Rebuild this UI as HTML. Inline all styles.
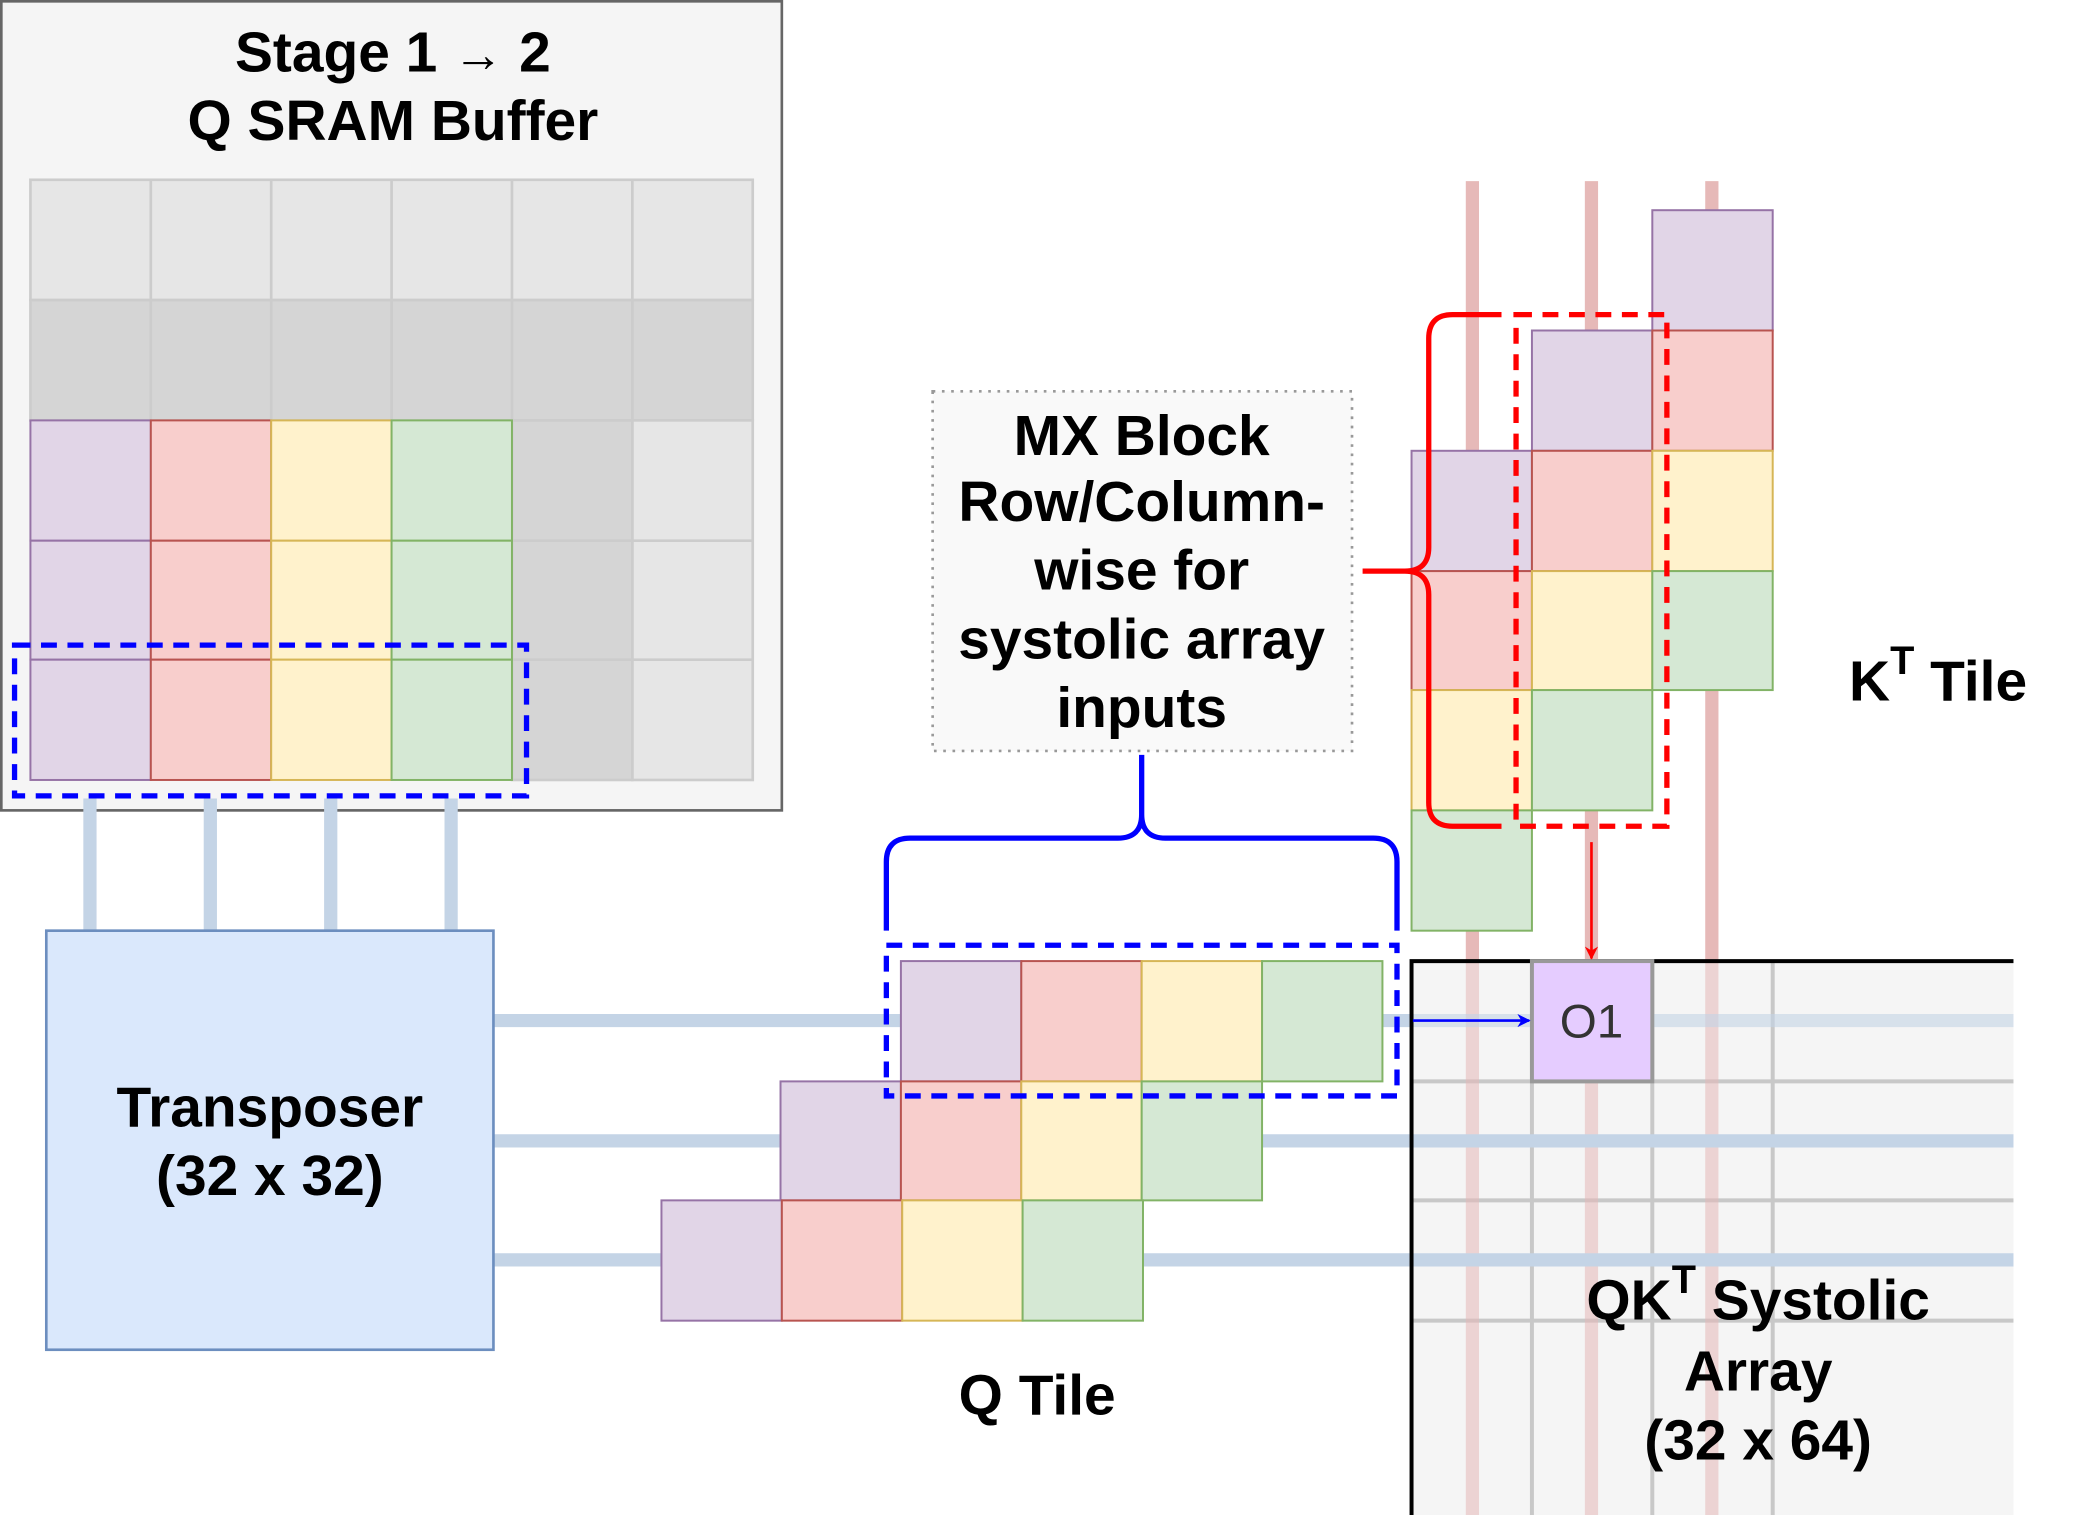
<!DOCTYPE html>
<html><head><meta charset="utf-8"><style>html,body{margin:0;padding:0;background:#fff}svg{display:block}text{font-family:"Liberation Sans",sans-serif;font-weight:bold;fill:#000;text-anchor:middle}</style></head><body>
<svg width="2073" height="1515" viewBox="0 0 1567 1146" preserveAspectRatio="none" xmlns="http://www.w3.org/2000/svg">
<defs>
<marker id="ab" markerWidth="10" markerHeight="10" refX="9" refY="5" orient="auto" markerUnits="userSpaceOnUse"><path d="M0,0 L10,5 L0,10 L3,5 z" fill="#00f"/></marker>
<marker id="ar" markerWidth="10" markerHeight="10" refX="9" refY="5" orient="auto" markerUnits="userSpaceOnUse"><path d="M0,0 L10,5 L0,10 L3,5 z" fill="#f00"/></marker>
</defs>
<rect x="1" y="1" width="590" height="612" fill="#f5f5f5" stroke="#666" stroke-width="2"/>
<text x="297" y="54" font-size="43">Stage 1 <tspan font-size="38">→</tspan> 2</text>
<text x="297" y="106" font-size="43">Q SRAM Buffer</text>
<g stroke="#ccc" stroke-width="2">
<rect x="23" y="136" width="546" height="91" fill="#e6e6e6"/>
<rect x="23" y="227" width="546" height="91" fill="#d5d5d5"/>
<rect x="387" y="318" width="91" height="272" fill="#d5d5d5"/>
<rect x="478" y="318" width="91" height="272" fill="#e6e6e6"/>
<path d="M114,136V318M205,136V318M296,136V318M387,136V318M478,136V590M387,409H569M387,499H569" fill="none"/>
</g>
<g stroke-width="1.5">
<g fill="#e1d5e7" stroke="#9673a6"><rect x="23" y="318" width="91" height="91"/><rect x="23" y="409" width="91" height="90"/><rect x="23" y="499" width="91" height="91"/></g>
<g fill="#f8cecc" stroke="#b85450"><rect x="114" y="318" width="91" height="91"/><rect x="114" y="409" width="91" height="90"/><rect x="114" y="499" width="91" height="91"/></g>
<g fill="#fff2cc" stroke="#d6b656"><rect x="205" y="318" width="91" height="91"/><rect x="205" y="409" width="91" height="90"/><rect x="205" y="499" width="91" height="91"/></g>
<g fill="#d5e8d4" stroke="#82b366"><rect x="296" y="318" width="91" height="91"/><rect x="296" y="409" width="91" height="90"/><rect x="296" y="499" width="91" height="91"/></g>
</g>
<rect x="11" y="488" width="387" height="114" fill="none" stroke="#00f" stroke-width="4" stroke-dasharray="12,8"/>
<g stroke="#c4d4e6" stroke-width="10"><path d="M68,604V704M159,604V704M250,604V704M341,604V704"/></g>
<rect x="1067" y="727" width="455" height="419" fill="#f5f5f5"/>
<g stroke="#c8c8c8" stroke-width="3"><path d="M1158,727V1146M1249,727V1146M1340,727V1146M1067,818H1522M1067,908H1522M1067,999H1522"/></g>
<g stroke="#e6b9b8" stroke-width="10"><path d="M1113,137V727M1203,137V727M1294,137V727"/></g>
<g stroke="#e6b9b8" stroke-width="10" opacity="0.55"><path d="M1113,727V1146M1203,727V1146M1294,727V1146"/></g>
<g stroke="#c4d4e6" stroke-width="10"><path d="M373,772H681M1045,772H1067M373,863H590M954,863H1522M373,953H500M864,953H1522"/></g>
<g stroke="#c4d4e6" stroke-width="10" opacity="0.6"><path d="M1067,772H1522"/></g>
<path d="M1067,1146V727H1522" fill="none" stroke="#000" stroke-width="3"/>
<rect x="1158" y="727" width="91" height="91" fill="#e5ccff" stroke="#999" stroke-width="3"/>
<text x="1203" y="785" font-size="36" style="font-weight:normal;fill:#333">O1</text>
<text x="1329" y="998" font-size="43">QK<tspan dy="-20" font-size="30">T</tspan><tspan dy="20"> Systolic</tspan></text>
<text x="1329" y="1052" font-size="43">Array</text>
<text x="1329" y="1104" font-size="43">(32 x 64)</text>
<rect x="35" y="704" width="338" height="317" fill="#dae8fc" stroke="#6c8ebf" stroke-width="2"/>
<text x="204" y="852" font-size="43">Transposer</text>
<text x="204" y="904" font-size="43">(32 x 32)</text>
<g stroke-width="1.5">
<rect x="681" y="727" width="91" height="91" fill="#e1d5e7" stroke="#9673a6"/><rect x="772" y="727" width="91" height="91" fill="#f8cecc" stroke="#b85450"/><rect x="863" y="727" width="91" height="91" fill="#fff2cc" stroke="#d6b656"/><rect x="954" y="727" width="91" height="91" fill="#d5e8d4" stroke="#82b366"/>
<rect x="590" y="818" width="91" height="90" fill="#e1d5e7" stroke="#9673a6"/><rect x="681" y="818" width="91" height="90" fill="#f8cecc" stroke="#b85450"/><rect x="772" y="818" width="91" height="90" fill="#fff2cc" stroke="#d6b656"/><rect x="863" y="818" width="91" height="90" fill="#d5e8d4" stroke="#82b366"/>
<rect x="500" y="908" width="91" height="91" fill="#e1d5e7" stroke="#9673a6"/><rect x="591" y="908" width="91" height="91" fill="#f8cecc" stroke="#b85450"/><rect x="682" y="908" width="91" height="91" fill="#fff2cc" stroke="#d6b656"/><rect x="773" y="908" width="91" height="91" fill="#d5e8d4" stroke="#82b366"/>
</g>
<rect x="670" y="715" width="386" height="114" fill="none" stroke="#00f" stroke-width="4" stroke-dasharray="12,8"/>
<text x="784" y="1070" font-size="43">Q Tile</text>
<g stroke-width="1.5">
<rect x="1067" y="341" width="91" height="91" fill="#e1d5e7" stroke="#9673a6"/><rect x="1067" y="432" width="91" height="90" fill="#f8cecc" stroke="#b85450"/><rect x="1067" y="522" width="91" height="91" fill="#fff2cc" stroke="#d6b656"/><rect x="1067" y="613" width="91" height="91" fill="#d5e8d4" stroke="#82b366"/>
<rect x="1158" y="250" width="91" height="91" fill="#e1d5e7" stroke="#9673a6"/><rect x="1158" y="341" width="91" height="91" fill="#f8cecc" stroke="#b85450"/><rect x="1158" y="432" width="91" height="90" fill="#fff2cc" stroke="#d6b656"/><rect x="1158" y="522" width="91" height="91" fill="#d5e8d4" stroke="#82b366"/>
<rect x="1249" y="159" width="91" height="91" fill="#e1d5e7" stroke="#9673a6"/><rect x="1249" y="250" width="91" height="91" fill="#f8cecc" stroke="#b85450"/><rect x="1249" y="341" width="91" height="91" fill="#fff2cc" stroke="#d6b656"/><rect x="1249" y="432" width="91" height="90" fill="#d5e8d4" stroke="#82b366"/>
</g>
<rect x="1146" y="238" width="114" height="387" fill="none" stroke="#f00" stroke-width="4" stroke-dasharray="12,8"/>
<text x="1465" y="530" font-size="43">K<tspan dy="-20" font-size="30">T</tspan><tspan dy="20"> Tile</tspan></text>
<path d="M1135,238 H1098 Q1080,238 1080,256 V414 Q1080,432 1062,432 H1030 M1062,432 Q1080,432 1080,450 V607 Q1080,625 1098,625 H1135" fill="none" stroke="#f00" stroke-width="4"/>
<path d="M670,704 V652 Q670,634 688,634 H845 Q863,634 863,616 V571 M863,616 Q863,634 881,634 H1038 Q1056,634 1056,652 V704" fill="none" stroke="#00f" stroke-width="4"/>
<rect x="705" y="296" width="317" height="272" fill="#f9f9f9" stroke="#999" stroke-width="2" stroke-dasharray="2,5"/>
<text x="863" y="344" font-size="43">MX Block</text>
<text x="863" y="394" font-size="43">Row/Column-</text>
<text x="863" y="446" font-size="43">wise for</text>
<text x="863" y="498" font-size="43">systolic array</text>
<text x="863" y="550" font-size="43">inputs</text>
<path d="M1068,772H1156" stroke="#00f" stroke-width="2" marker-end="url(#ab)"/>
<path d="M1203,637V725" stroke="#f00" stroke-width="2" marker-end="url(#ar)"/>
</svg>
</body></html>
